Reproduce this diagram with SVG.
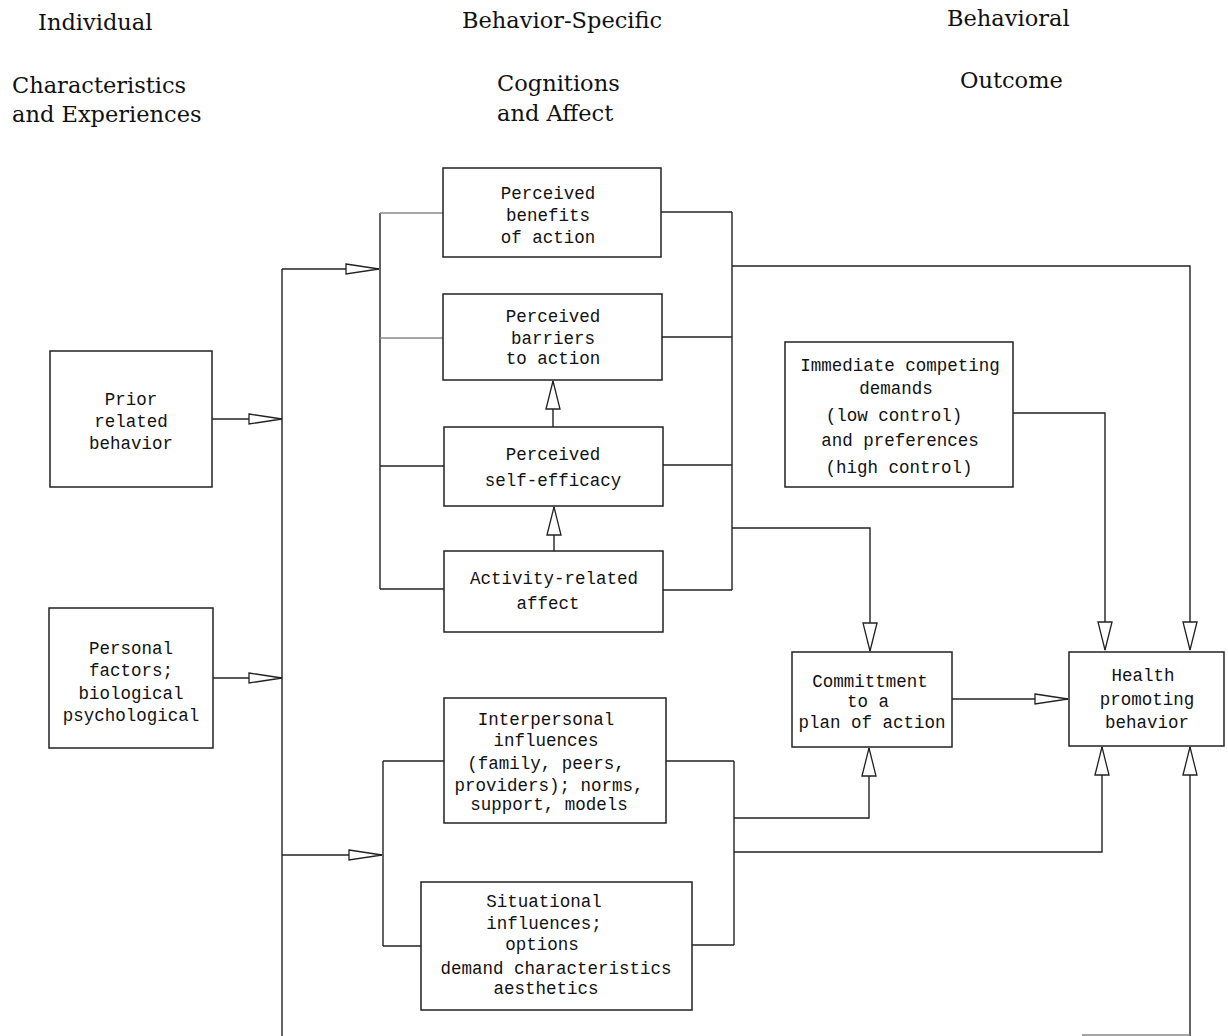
<svg xmlns="http://www.w3.org/2000/svg" width="1228" height="1036" viewBox="0 0 1228 1036">
<style>
.hdr{font-family:"DejaVu Serif","Liberation Serif",serif;font-size:22.5px;fill:#111}
.box{fill:#fff;stroke:#222;stroke-width:1.5}
.t{font-family:"Liberation Mono","DejaVu Sans Mono",monospace;font-size:17.5px;fill:#111;text-anchor:middle}
.c{fill:none;stroke:#222;stroke-width:1.4}
.g{fill:none;stroke:#888;stroke-width:1.3}
</style>
<defs>
<marker id="ah" viewBox="0 0 35 12" markerWidth="35" markerHeight="12" refX="34" refY="6" markerUnits="userSpaceOnUse" orient="auto">
<path d="M1,1 L34,6 L1,11 Z" fill="#fff" stroke="#222" stroke-width="1.3"/>
</marker>
<marker id="av" viewBox="0 0 30 16" markerWidth="30" markerHeight="16" refX="29" refY="8" markerUnits="userSpaceOnUse" orient="auto">
<path d="M1,1 L29,8 L1,15 Z" fill="#fff" stroke="#222" stroke-width="1.3"/>
</marker>
</defs>
<rect width="1228" height="1036" fill="#fff"/>

<g id="headers">
<text class="hdr" x="38" y="30">Individual</text>
<text class="hdr" x="12" y="93">Characteristics</text>
<text class="hdr" x="12" y="122">and Experiences</text>
<text class="hdr" x="462" y="28">Behavior-Specific</text>
<text class="hdr" x="497" y="91">Cognitions</text>
<text class="hdr" x="497" y="121">and Affect</text>
<text class="hdr" x="947" y="26">Behavioral</text>
<text class="hdr" x="960" y="88">Outcome</text>
</g>

<g id="connectors">
<path class="c" d="M212,419 H282" marker-end="url(#ah)"/>
<path class="c" d="M213,678 H282" marker-end="url(#ah)"/>
<path class="c" d="M282,1036 V269"/>
<path class="c" d="M282,269 H379" marker-end="url(#ah)"/>
<path class="c" d="M282,855 H382" marker-end="url(#ah)"/>
<path class="c" d="M380,213 V589"/>
<path class="g" d="M380,213 H443"/>
<path class="g" d="M380,338 H443"/>
<path class="c" d="M380,466 H444"/>
<path class="c" d="M380,589 H444"/>
<path class="c" d="M553,427 V381" marker-end="url(#av)"/>
<path class="c" d="M554,551 V507" marker-end="url(#av)"/>
<path class="c" d="M732,212 V590"/>
<path class="c" d="M661,212 H732"/>
<path class="c" d="M662,337 H732"/>
<path class="c" d="M663,465 H732"/>
<path class="c" d="M663,590 H732"/>
<path class="c" d="M732,266 H1190 V650" marker-end="url(#av)"/>
<path class="c" d="M732,528 H870 V651" marker-end="url(#av)"/>
<path class="c" d="M1013,413 H1105 V650" marker-end="url(#av)"/>
<path class="c" d="M952,699 H1068" marker-end="url(#ah)"/>
<path class="c" d="M383,761 V946"/>
<path class="c" d="M383,761 H444"/>
<path class="c" d="M383,946 H421"/>
<path class="c" d="M734,761 V945"/>
<path class="c" d="M666,761 H734"/>
<path class="c" d="M692,945 H734"/>
<path class="c" d="M734,818 H869 V748" marker-end="url(#av)"/>
<path class="c" d="M734,852 H1102 V747" marker-end="url(#av)"/>
<path class="c" d="M1190,1036 V747" marker-end="url(#av)"/>
<path class="g" d="M1082,1035 H1190"/>
</g>

<g id="prior">
<rect class="box" x="50" y="351" width="162" height="136"/>
<text class="t" x="131" y="405">Prior</text>
<text class="t" x="131" y="427">related</text>
<text class="t" x="131" y="449">behavior</text>
</g>

<g id="personal">
<rect class="box" x="49" y="608" width="164" height="140"/>
<text class="t" x="131" y="654">Personal</text>
<text class="t" x="131" y="676">factors;</text>
<text class="t" x="131" y="699">biological</text>
<text class="t" x="131" y="721">psychological</text>
</g>

<g id="benefits">
<rect class="box" x="443" y="168" width="218" height="89"/>
<text class="t" x="548" y="199">Perceived</text>
<text class="t" x="548" y="221">benefits</text>
<text class="t" x="548" y="243">of action</text>
</g>

<g id="barriers">
<rect class="box" x="443" y="294" width="219" height="86"/>
<text class="t" x="553" y="322">Perceived</text>
<text class="t" x="553" y="344">barriers</text>
<text class="t" x="553" y="364">to action</text>
</g>

<g id="selfefficacy">
<rect class="box" x="444" y="427" width="219" height="79"/>
<text class="t" x="553" y="460">Perceived</text>
<text class="t" x="553" y="486">self-efficacy</text>
</g>

<g id="affect">
<rect class="box" x="444" y="551" width="219" height="81"/>
<text class="t" x="554" y="584">Activity-related</text>
<text class="t" x="548" y="609">affect</text>
</g>

<g id="competing">
<rect class="box" x="785" y="342" width="228" height="145"/>
<text class="t" x="900" y="371">Immediate competing</text>
<text class="t" x="896" y="394">demands</text>
<text class="t" x="894" y="421">(low control)</text>
<text class="t" x="900" y="446">and preferences</text>
<text class="t" x="899" y="473">(high control)</text>
</g>

<g id="commitment">
<rect class="box" x="792" y="652" width="160" height="95"/>
<text class="t" x="870" y="687">Committment</text>
<text class="t" x="868" y="707">to a</text>
<text class="t" x="872" y="728">plan of action</text>
</g>

<g id="health">
<rect class="box" x="1069" y="652" width="155" height="94"/>
<text class="t" x="1143" y="681">Health</text>
<text class="t" x="1147" y="705">promoting</text>
<text class="t" x="1147" y="728">behavior</text>
</g>

<g id="interpersonal">
<rect class="box" x="444" y="698" width="222" height="125"/>
<text class="t" x="546" y="725">Interpersonal</text>
<text class="t" x="546" y="746">influences</text>
<text class="t" x="546" y="769">(family, peers,</text>
<text class="t" x="549" y="791">providers); norms,</text>
<text class="t" x="549" y="810">support, models</text>
</g>

<g id="situational">
<rect class="box" x="421" y="882" width="271" height="128"/>
<text class="t" x="544" y="907">Situational</text>
<text class="t" x="544" y="929">influences;</text>
<text class="t" x="542" y="950">options</text>
<text class="t" x="556" y="974">demand characteristics</text>
<text class="t" x="546" y="994">aesthetics</text>
</g>
</svg>
